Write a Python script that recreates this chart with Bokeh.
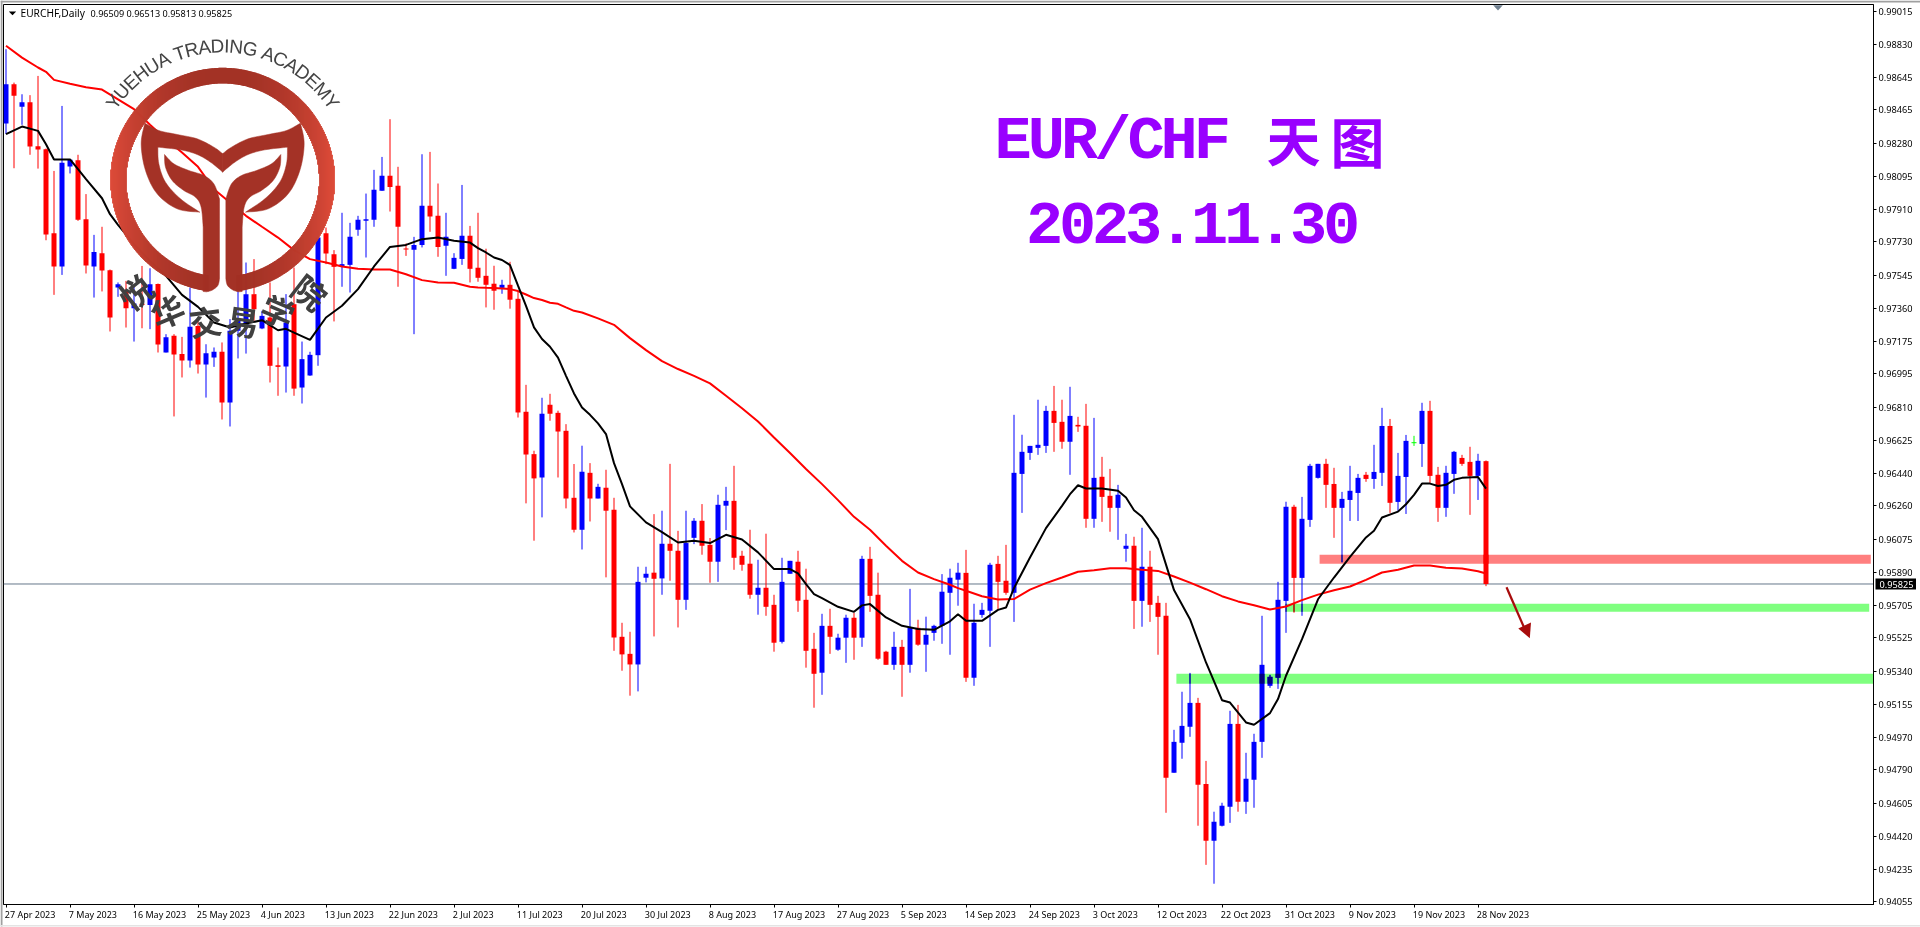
import numpy as np
from bokeh.plotting import figure
from bokeh.embed import file_html
from bokeh.resources import INLINE
from bokeh.layouts import column
from bokeh.models import Range1d, FixedTicker, NumeralTickFormatter, Label

SYMBOL = "EURCHF,Daily"
TITLE_1 = "EUR/CHF"
TITLE_1_CJK = "天图"
TITLE_2 = "2023.11.30"
LOGO_EN = "YUEHUA TRADING ACADEMY"
LOGO_CN = "悦华交易学院"

date_labels = ["27 Apr 2023","7 May 2023","16 May 2023","25 May 2023","4 Jun 2023","13 Jun 2023","22 Jun 2023","2 Jul 2023",
               "11 Jul 2023","20 Jul 2023","30 Jul 2023","8 Aug 2023","17 Aug 2023","27 Aug 2023","5 Sep 2023","14 Sep 2023",
               "24 Sep 2023","3 Oct 2023","12 Oct 2023","22 Oct 2023","31 Oct 2023","9 Nov 2023","19 Nov 2023","28 Nov 2023"]
price_ticks = [0.99015,0.98830,0.98645,0.98465,0.98280,0.98095,0.97910,0.97730,0.97545,0.97360,0.97175,0.96995,0.96810,
               0.96625,0.96440,0.96260,0.96075,0.95890,0.95705,0.95525,0.95340,0.95155,0.94970,0.94790,0.94605,0.94420,0.94235,0.94055]
last_price = 0.95825

# daily candles, prices in 1e-5
opens = [98389,98608,98482,98508,98263,98246,97778,97593,98150,98185,97856,97593,97667,97572,97476,97457,97361,97385,97379,97496,
 97114,97207,97105,97069,97262,97047,97086,97118,96836,97235,97262,97439,97248,97309,97043,97036,97383,96919,96986,97099,
 97778,97661,97596,97602,97797,97847,97853,98014,98098,98042,97693,97686,97712,97931,97875,97708,97580,97635,97764,97586,
 97541,97497,97474,97491,97413,96784,96548,96418,96823,96778,96678,96305,96127,96444,96301,96361,96238,95531,95436,95377,
 95860,95888,95856,96049,96010,95737,96082,96177,96043,95949,96261,96288,95982,95938,95765,95804,95709,95503,95882,95949,
 95737,95464,95331,95592,95459,95526,95637,95526,95965,95765,95448,95375,95475,95375,95581,95487,95553,95592,95776,95849,
 95887,95303,95653,95676,95937,95843,95776,96438,96555,96583,96594,96789,96728,96617,96711,96706,96188,96422,96316,96249,
 96021,96038,95731,95921,95720,95648,94774,94941,95030,95163,94712,94395,94479,94584,95046,94612,94735,94946,95258,95303,
 95731,96255,95859,96182,96416,96494,96382,96249,96293,96332,96433,96410,96444,96705,96282,96421,96609,96605,96789,96433,
 96249,96438,96527,96505,96427,96509]
closes = [98608,98543,98508,98261,98244,97771,97593,98170,98187,97853,97598,97673,97570,97309,97494,97361,97387,97379,97494,97158,
 97199,97103,97069,97257,97047,97110,97118,96836,97235,97290,97439,97355,97318,97040,97034,97281,96913,97077,97101,97754,
 97665,97591,97606,97758,97853,97856,98020,98098,98036,97814,97687,97712,97931,97871,97702,97758,97641,97764,97580,97530,
 97491,97458,97491,97408,96780,96546,96413,96773,96773,96674,96301,96127,96450,96301,96366,96233,95527,95433,95377,95837,
 95882,95854,96049,96010,95737,96053,96177,96038,95949,96266,96288,95971,95932,95765,95804,95698,95498,95837,95954,95732,
 95453,95325,95592,95531,95526,95637,95526,95965,95759,95409,95375,95475,95375,95581,95487,95542,95592,95782,95860,95888,
 95303,95609,95681,95932,95837,95776,96444,96561,96594,96600,96789,96722,96617,96761,96702,96188,96416,96310,96249,96322,
 96038,95731,95921,95709,95642,94746,94946,95035,95163,94707,94395,94501,94590,95046,94612,94740,94946,95375,95308,95737,
 96255,95859,96188,96483,96494,96377,96249,96299,96344,96416,96410,96449,96705,96277,96427,96622,96609,96789,96427,96249,
 96444,96561,96494,96427,96511,95825]
highs = [98803,98617,98552,98547,98654,98250,98125,98487,98190,98215,97996,97769,97814,97576,97504,97513,97494,97596,97583,97498,
 97216,97216,97201,97476,97290,97160,97142,97170,97300,97457,97615,97634,97346,97504,97142,97439,97587,97175,97118,97791,
 97810,97684,97892,97836,97875,97999,98131,98203,98413,98148,97721,97758,98218,98231,98055,97892,97667,98047,97819,97892,
 97692,97597,97519,97619,97452,96934,96567,96862,96884,96790,96715,96493,96595,96498,96383,96461,96305,95609,95559,95921,
 95921,96214,96233,96494,96121,96233,96192,96270,96081,96322,96366,96483,96010,96127,95960,96105,95765,95971,95954,96010,
 95910,95553,95659,95687,95548,95654,95665,95982,96032,95888,95453,95559,95514,95798,95626,95643,95598,95880,95910,95943,
 96015,95715,95720,95943,95982,96043,96767,96656,96594,96851,96817,96928,96851,96923,96756,96828,96750,96533,96466,96377,
 96104,96088,96138,96010,95759,95720,95013,95225,95330,95191,94840,94557,94607,95119,95152,94885,94991,95648,95319,95837,
 96283,96266,96310,96494,96494,96522,96472,96338,96483,96438,96449,96600,96806,96744,96555,96655,96650,96834,96845,96477,
 96483,96566,96544,96589,96550,96513]
lows = [98330,98140,98382,98215,98138,97739,97435,97546,98111,97847,97554,97420,97454,97231,97424,97253,97175,97249,97244,97114,
 97114,96758,96975,97030,96997,96863,97034,96741,96702,97081,97108,97290,97244,96947,96873,96891,96873,96830,96984,97040,
 97606,97287,97480,97448,97764,97643,97814,98014,97899,97480,97652,97216,97699,97786,97647,97541,97578,97602,97504,97508,
 97365,97352,97441,97358,96752,96274,96066,96196,96734,96418,96246,96112,96017,96173,96301,95862,95453,95342,95203,95227,
 95834,95533,95765,95843,95583,95681,96047,95988,95832,95837,96125,95904,95899,95743,95654,95648,95448,95494,95882,95670,
 95359,95136,95208,95436,95453,95386,95403,95475,95670,95403,95375,95347,95197,95331,95481,95336,95509,95492,95431,95704,
 95280,95258,95637,95475,95685,95765,95614,96221,96516,96544,96555,96561,96578,96433,96672,96138,96138,96171,96116,96071,
 95949,95575,95587,95614,95431,94551,94774,94852,94974,94479,94261,94156,94475,94495,94557,94545,94579,94857,95247,95241,
 95553,95665,95648,96143,96412,96249,96082,95946,96176,96176,96394,96355,96371,96221,96232,96215,96594,96477,96388,96171,
 96199,96327,96483,96210,96293,95813]

# moving averages read at the listed bars, prices in 1e-5
ma_red_bars = [0,2,4,5,6,8,10,12,14,16,18,20,22,24,26,28,30,32,34,36,38,40,42,44,46,48,50,52,54,56,58,59,60,61,62,63,64,65,66,67,68,69,70,71,
 72,74,76,78,80,82,84,86,88,90,92,94,96,98,100,102,104,106,108,110,112,114,116,118,119,120,122,124,126,128,130,132,134,136,138,140,142,144,146,148,150,152,154,156,158,
 160,162,164,166,168,170,172,174,176,178,180,182,184,185]
ma_red = [98822,98756,98701,98677,98632,98610,98591,98578,98524,98469,98382,98302,98228,98148,98023,97949,97875,97814,97754,97684,97634,97615,97593,97580,97576,97576,97550,97517,97504,97502,97480,97476,97474,97473,97471,97467,97456,97437,97417,97406,97391,97385,97365,97346,
 97337,97304,97268,97194,97127,97066,97022,96984,96942,96873,96804,96730,96641,96554,96465,96381,96292,96199,96127,96038,95954,95889,95852,95821,95802,95787,95757,95739,95741,95794,95830,95861,95893,95902,95913,95913,95904,95898,95867,95833,95796,95757,95728,95707,95683,
 95700,95735,95766,95790,95811,95848,95889,95904,95928,95928,95915,95911,95896,95883]
ma_black_bars = [0,2,4,5,6,8,9,10,12,13,14,16,18,20,22,24,26,28,30,32,34,35,36,38,40,42,44,46,48,50,52,54,56,58,59,60,61,62,63,64,65,
 66,67,68,69,70,71,72,73,74,75,76,77,78,80,82,84,86,88,90,92,94,96,98,99,100,101,102,104,106,107,108,110,112,114,116,118,119,
 120,122,124,125,126,128,130,132,133,134,135,137,139,140,141,142,144,146,148,150,152,153,155,156,158,159,160,
 162,164,166,168,170,171,172,174,175,176,177,178,179,180,181,182,184,185]
ma_black = [98330,98372,98348,98274,98189,98189,98135,98079,97973,97884,97825,97717,97624,97541,97435,97368,97281,97253,97275,97294,97238,97246,97225,97184,97309,97374,97467,97593,97702,97713,97745,97754,97736,97726,97695,97671,97643,97629,97601,97486,97374,
 97254,97189,97146,97086,96984,96886,96808,96767,96719,96660,96498,96381,96257,96168,96114,96056,96066,96053,96099,96073,96001,95908,95908,95884,95824,95769,95746,95698,95670,95706,95713,95639,95592,95574,95570,95617,95657,
 95620,95620,95681,95694,95802,95973,96136,96260,96325,96375,96357,96357,96344,96307,96236,96199,96075,95791,95629,95388,95178,95165,95054,95041,95106,95184,95314,
 95518,95740,95861,95976,96084,96121,96195,96228,96269,96321,96384,96384,96371,96377,96405,96416,96421,96356]

# support / resistance zones: low, high price, first bar, last bar
zone_low = [0.95938, 0.95670, 0.95270]
zone_high = [0.95988, 0.95715, 0.95325]
zone_start = [164.2, 160.0, 146.3]
zone_end = [233.1, 232.9, 233.4]
zone_mult = [(1, .5, .5), (.5, 1, .5), (.5, 1, .5)]

assert len(opens) == len(closes) == len(highs) == len(lows) == 186
assert len(ma_red) == len(ma_red_bars) and len(ma_black) == len(ma_black_bars)

o, c, h, l = [np.array(a) / 1e5 for a in (opens, closes, highs, lows)]
bars = np.arange(len(o))
F_L, F_R, F_T, F_B = 3, 1873, 4, 904     # frame, in page pixels
PX_PER_BAR = 8.0
PX_PER_UNIT = 17959.0
x0 = (F_L - 5.5) / PX_PER_BAR
y_top = 0.9681 + (406.6 - F_T) / PX_PER_UNIT

p = figure(width=1920, height=927, output_backend="svg", toolbar_location=None,
           x_range=Range1d(x0, x0 + (F_R - F_L) / PX_PER_BAR),
           y_range=Range1d(y_top - (F_B - F_T) / PX_PER_UNIT, y_top),
           x_axis_location="below", y_axis_location="right",
           min_border_left=F_L, min_border_right=1920 - F_R, min_border_top=F_T, min_border_bottom=927 - F_B)
p.styles = {"position": "fixed", "left": "0px", "top": "0px"}
p.frame_align = False
p.extra_x_ranges["px"] = Range1d(F_L, F_R)
p.extra_y_ranges["px"] = Range1d(F_B, F_T)
p.grid.visible = False
p.background_fill_color = "white"
p.border_fill_color = "white"
p.outline_line_color = "black"

# transparent page-wide sheet for what lies outside the plot frame
q = figure(width=1920, height=927, output_backend="svg", toolbar_location=None,
           x_range=Range1d(0, 1920), y_range=Range1d(927, 0),
           x_axis_location=None, y_axis_location=None,
           min_border_left=0, min_border_right=0, min_border_top=0, min_border_bottom=0)
q.styles = {"position": "fixed", "left": "0px", "top": "0px", "pointer-events": "none"}
q.frame_align = False
q.grid.visible = False
q.background_fill_color = None
q.border_fill_color = None
q.outline_line_color = None

ax = p.xaxis[0]
ax.ticker = FixedTicker(ticks=[8 * k for k in range(len(date_labels))])
ax.major_label_overrides = {8 * k: "" for k in range(len(date_labels))}
ax.major_label_standoff = 0
ay = p.yaxis[0]
ay.ticker = FixedTicker(ticks=price_ticks)
ay.formatter = NumeralTickFormatter(format="0.00000")
ay.major_label_text_font = "Noto Sans"
ay.major_label_text_font_size = "9.2px"
ay.major_label_text_color = "black"
ay.major_label_standoff = 2
for a in (ax, ay):
    a.axis_line_color = "black"
    a.major_tick_line_color = "black"
    a.major_tick_out = 3
    a.major_tick_in = 0
    a.minor_tick_out = 0
    a.minor_tick_in = 0

# last price line
p.line([x0, x0 + (F_R - F_L) / PX_PER_BAR], [last_price, last_price], line_color="#66778A", line_width=1)

def mult(rgb, f):
    return "#%02x%02x%02x" % tuple(int(v * m) for v, m in zip(rgb, f))

# zones below the candles
for lo, hi, a, b, f in zip(zone_low, zone_high, zone_start, zone_end, zone_mult):
    p.quad(left=a, right=b, bottom=lo, top=hi, fill_color=mult((255, 255, 255), f), line_color=None)

BLUE, RED, LIME = (0, 0, 255), (255, 0, 0), (0, 255, 0)
rgb = [LIME if oo == cc else (BLUE if cc > oo else RED) for oo, cc in zip(o, c)]
col = [mult(v, (1, 1, 1)) for v in rgb]
p.segment(bars, l, bars, h, line_color=col, line_width=1)
btm, top = np.minimum(o, c), np.maximum(o, c)
HW = 2.5 / PX_PER_BAR
doji = 1 / PX_PER_UNIT
top_d = np.where(top - btm < doji, btm + doji, top)
p.quad(left=bars - HW, right=bars + HW, bottom=btm, top=top_d, fill_color=col, line_color=None)

# zone-tinted parts of the candles (the zones multiply in the reference)
for lo, hi, a, b, f in zip(zone_low, zone_high, zone_start, zone_end, zone_mult):
    for i in bars:
        if i < a or i > b:
            continue
        b1, t1 = max(l[i], lo), min(h[i], hi)
        if b1 < t1:
            p.segment(i, b1, i, t1, line_color=mult(rgb[i], f), line_width=1)
        b2, t2 = max(btm[i], lo), min(top[i], hi)
        if b2 < t2:
            p.quad(left=i - HW, right=i + HW, bottom=b2, top=t2, fill_color=mult(rgb[i], f), line_color=None)

p.line(ma_red_bars, np.array(ma_red) / 1e5, line_color="#FF0000", line_width=2)
p.line(ma_black_bars, np.array(ma_black) / 1e5, line_color="#000000", line_width=2)

# ---- logo, on local reference coordinates -----------------------------------
def lx(v): return 100 + np.asarray(v, float) / 3
def ly(v): return 30 + np.asarray(v, float) / 3

def smooth(pts, n=8):
    P = np.array([pts[0]] + list(pts) + [pts[-1]], float)
    out = []
    for k in range(1, len(P) - 2):
        for t in np.linspace(0, 1, n, endpoint=False):
            p0, p1, p2, p3 = P[k-1], P[k], P[k+1], P[k+2]
            out.append(0.5 * ((2*p1) + (-p0+p2)*t + (2*p0-5*p1+4*p2-p3)*t*t + (-p0+3*p1-3*p2+p3)*t**3))
    out.append(P[-2])
    return out

horn = (smooth([(133,278),(175,300),(230,312),(290,325),(340,350),(367,370)]) +
        smooth([(367,425),(330,395),(290,372),(240,358),(172,350)]) +
        smooth([(172,350),(175,400),(195,455),(240,505),(298,545)]) +
        smooth([(298,545),(230,535),(170,490),(135,420),(122,340),(133,278)]))
stem = (smooth([(192,372),(220,400),(265,420),(310,435),(340,460),(357,505)]) +
        smooth([(357,745),(352,765),(335,779),(318,784)]) +
        [np.array((308,783.0)), np.array((308,732.0)), np.array((308,590.0))] +
        smooth([(308,590),(302,530),(285,500),(250,480),(215,450),(195,410),(192,372)]))
LOGO_C = "#A43226"
for shape in (horn, stem):
    arr = np.array(shape)
    for mx in (arr[:, 0], 733 - arr[:, 0]):
        p.patch(lx(mx), ly(arr[:, 1]), fill_color=LOGO_C, line_color=LOGO_C, line_width=0.5,
                x_range_name="px", y_range_name="px")

cx, cy, R_o, R_i = 222.2, 179.5, 112.2, 96.5
sx0, sy0, sx1, sy1, sc = [], [], [], [], []
for xpx in range(int(cx - R_o) - 1, int(cx + R_o) + 2):
    xc = xpx + 0.5
    dx = xc - cx
    if abs(dx) >= R_o:
        continue
    yo = np.sqrt(R_o**2 - dx**2)
    yi = np.sqrt(R_i**2 - dx**2) if abs(dx) < R_i else 0.0
    t = min(1.0, (abs(dx) / R_o)) ** 2.2
    colr = "#%02x%02x%02x" % (int(162 + 60 * t), int(48 + 26 * t), int(36 + 20 * t))
    sx0.append(xc); sy0.append(cy - yo); sx1.append(xc); sy1.append(cy - yi); sc.append(colr)
    if abs(dx) > 14:
        sx0.append(xc); sy0.append(cy + yi); sx1.append(xc); sy1.append(cy + yo); sc.append(colr)
p.segment(sx0, sy0, sx1, sy1, line_color=sc, line_width=1.8, x_range_name="px", y_range_name="px")

# arrow
ARROW = "#A80C0C"
p.line([1506, 1524], [586.7, 628], line_color=ARROW, line_width=2.2, x_range_name="px", y_range_name="px")
p.patch([1529.3, 1517.8, 1530.5], [637.7, 628, 622], fill_color=ARROW, line_color=None, x_range_name="px", y_range_name="px")

# small triangles
p.patch([1492.7, 1502.3, 1497.5], [4.7, 4.7, 10], fill_color="#708090", line_color=None, x_range_name="px", y_range_name="px")
p.patch([8.3, 15.7, 12], [11, 11, 14.7], fill_color="black", line_color=None, x_range_name="px", y_range_name="px")

def txt(x, y, s, font, size, color, align="left", style="normal", angle=0.0):
    q.add_layout(Label(x=x, y=y, text=s, text_font=font,
                       text_font_size=f"{size}px", text_color=color, text_align=align, text_baseline="middle",
                       text_font_style=style, angle=angle))

# page-wide sheet: window border and last price tag
for l_, r_, t_, b_, cc in [(0, 2, 0, 926, "#A0A0A0"), (0, 1920, 0, 2, "#A0A0A0"), (0, 1920, 924.5, 926, "#E4E4E4"),
                           (1875, 1915.5, 578, 589, "black")]:
    q.quad(left=l_, right=r_, top=t_, bottom=b_, fill_color=cc, line_color=None)
txt(1879, 583.5, "%.5f" % last_price, "Noto Sans", 9.2, "white")

# date labels, left-aligned at their ticks
for k, s in enumerate(date_labels):
    txt(4.3 + 8 * PX_PER_BAR * k, 914, s, "Noto Sans", 9, "black")

# logo letters on their arcs
W = dict(zip("YUEHATRDINGCM ", [.667,.722,.667,.722,.667,.611,.722,.722,.278,.722,.778,.722,.833,.278]))
adv = [W[ch] for ch in LOGO_EN]
tot = sum(adv)
cum = 0.0
for ch, w in zip(LOGO_EN, adv):
    a = np.radians(-57 + (cum + w / 2) / tot * 114)
    cum += w
    if ch != " ":
        txt(cx + 134 * np.sin(a), cy - 134 * np.cos(a), ch, "Liberation Sans", 19, "#444444", align="center", angle=-a)
for ch, deg in zip(LOGO_CN, [-38, -23, -7, 8, 23, 38]):
    a = np.radians(deg)
    txt(cx + 142 * np.sin(a), cy + 142 * np.cos(a), ch, "Noto Sans CJK SC", 33, "#404040",
        align="center", style="bold", angle=-a)

# title
PURPLE = "#9900FF"
for k, ch in enumerate(TITLE_1):
    txt(1012.7 + 33.2 * k, 140.5, ch, "Liberation Mono", 62, PURPLE, align="center", style="bold")
txt(1293, 138, TITLE_1_CJK[0], "Noto Sans CJK SC", 54, PURPLE, align="center", style="bold")
txt(1357, 140, TITLE_1_CJK[1], "Noto Sans CJK SC", 54, PURPLE, align="center", style="bold")
for k, ch in enumerate(TITLE_2):
    txt(1044 + 33 * k, 222.5, ch, "Liberation Mono", 62, PURPLE, align="center", style="bold")

# header
txt(20, 12.7, SYMBOL, "Noto Sans", 10.2, "black")
txt(90, 12.7, "%.5f %.5f %.5f %.5f" % (o[-1], h[-1], l[-1], c[-1]), "Noto Sans", 9.1, "black")

open("out.html", "w").write(file_html(column(p, q), INLINE))
